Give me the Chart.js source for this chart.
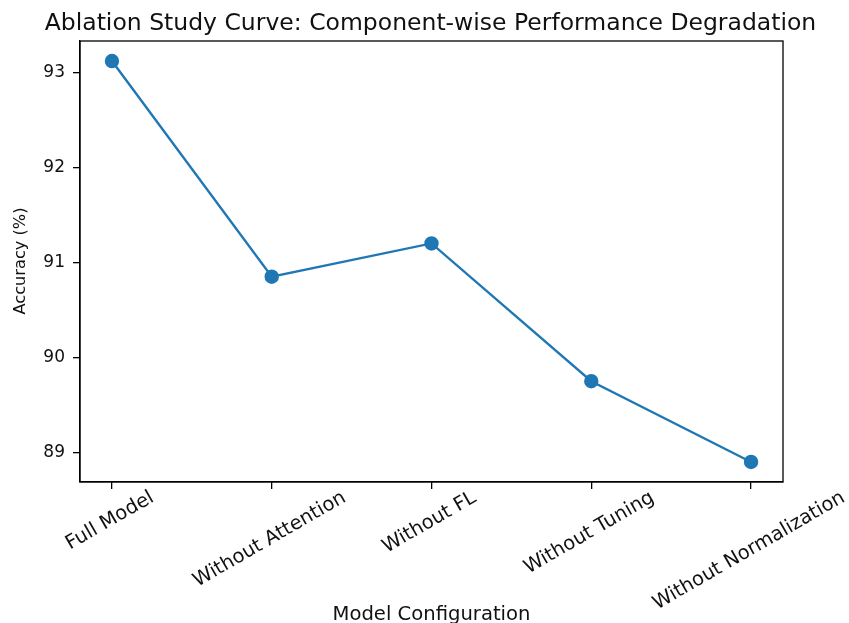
<!DOCTYPE html>
<html>
<head>
<meta charset="utf-8">
<script src="https://cdn.jsdelivr.net/npm/chart.js@4"></script>
<style>
  html, body { margin: 0; padding: 0; background: #fff; }
  canvas { display: block; }
</style>
</head>
<body>
<canvas id="chart" width="849" height="623"></canvas>
<script>
// Daten
const configs = ['Full Model', 'Without Attention', 'Without FL', 'Without Tuning', 'Without Normalization'];
const accuracy = [93.12, 90.85, 91.2, 89.75, 88.9];
const yTicks = [89, 90, 91, 92, 93];

const chartTitle = 'Ablation Study Curve: Component-wise Performance Degradation';
const xTitle = 'Model Configuration';
const yTitle = 'Accuracy (%)';

const FONT = '"DejaVu Sans", sans-serif';
const xTickSize = 19.5;
const yTickSize = 17;

// Rahmen, gedrehte x-Beschriftungen und Achsentitel selber zeichnen
const extras = {
  id: 'extras',
  afterDraw(chart) {
    const ctx = chart.ctx;
    const a = chart.chartArea;
    const xs = chart.scales.x;
    ctx.save();
    ctx.strokeStyle = '#000';
    ctx.lineWidth = 1.3;
    ctx.strokeRect(a.left, a.top, a.right - a.left, a.bottom - a.top);

    ctx.fillStyle = '#111';
    ctx.font = xTickSize + 'px ' + FONT;
    const ang = 30 * Math.PI / 180;
    configs.forEach((lab, i) => {
      const px = xs.getPixelForValue(i);
      const w = ctx.measureText(lab).width;
      const h = xTickSize * 0.75;
      const bh = w * Math.sin(ang) + h * Math.cos(ang);
      const cy = a.bottom + 8 + bh / 2;
      ctx.save();
      ctx.translate(px - 2, cy);
      ctx.rotate(-ang);
      ctx.textAlign = 'center';
      ctx.textBaseline = 'middle';
      ctx.fillText(lab, 0, 0);
      ctx.restore();
    });

    ctx.textAlign = 'center';
    ctx.textBaseline = 'alphabetic';
    ctx.font = '19.6px ' + FONT;
    ctx.fillText(xTitle, (a.left + a.right) / 2, 620);

    ctx.font = '16.2px ' + FONT;
    ctx.save();
    ctx.translate(25, 261);
    ctx.rotate(-Math.PI / 2);
    ctx.fillText(yTitle, 0, 0);
    ctx.restore();

    ctx.font = '23.5px ' + FONT;
    ctx.fillText(chartTitle, (a.left + a.right) / 2 - 1, 30);
    ctx.restore();
  }
};

const chart = new Chart(document.querySelector('#chart'), {
  type: 'line',
  data: {
    datasets: [{
      label: yTitle,
      data: accuracy.map((v, i) => ({ x: i, y: v })),
      borderColor: '#1f77b4',
      backgroundColor: '#1f77b4',
      borderWidth: 2.4,
      pointRadius: 6,
      pointHoverRadius: 6,
      tension: 0,
      fill: false
    }]
  },
  options: {
    responsive: false,
    animation: false,
    events: [],
    layout: { padding: { left: 0, right: 66, top: 41, bottom: 0 } },
    plugins: {
      legend: { display: false },
      title: { display: false },
      tooltip: { enabled: false }
    },
    scales: {
      x: {
        type: 'linear',
        min: -0.2,
        max: 4.2,
        afterBuildTicks: s => { s.ticks = configs.map((c, i) => ({ value: i })); },
        afterFit: s => { s.height = 141; },
        grid: { drawOnChartArea: false, drawTicks: true, tickLength: 7, color: '#000', lineWidth: 1.3 },
        border: { display: true, color: '#000', width: 1.3 },
        ticks: { display: false }
      },
      y: {
        min: 88.689,
        max: 93.331,
        afterBuildTicks: s => { s.ticks = yTicks.map(v => ({ value: v })); },
        afterFit: s => { s.width = 80; },
        grid: { drawOnChartArea: false, drawTicks: true, tickLength: 7, color: '#000', lineWidth: 1.3 },
        border: { display: true, color: '#000', width: 1.3 },
        ticks: { color: '#111', padding: 8, font: { family: FONT, size: yTickSize } }
      }
    }
  },
  plugins: [extras]
});
</script>
</body>
</html>
